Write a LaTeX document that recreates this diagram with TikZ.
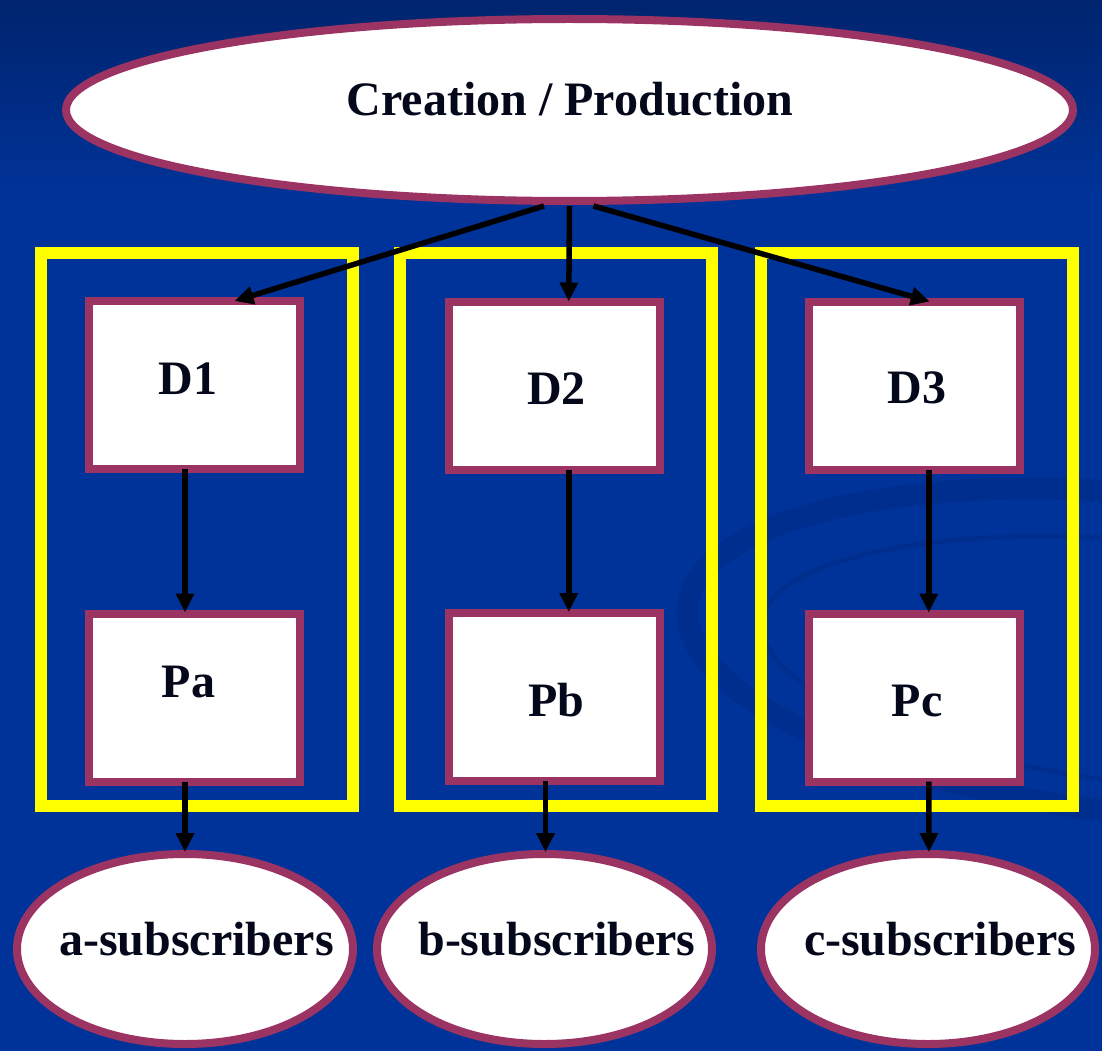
\documentclass[tikz,border=0pt]{standalone}
\usepackage{fontspec}
\setmainfont{Liberation Serif}
\usetikzlibrary{arrows.meta,shapes.geometric,calc}
\definecolor{bgblue}{RGB}{0,51,153}
\definecolor{bgtop}{RGB}{0,36,110}
\definecolor{swirlc}{RGB}{0,46,143}
\definecolor{plum}{RGB}{155,52,98}
\definecolor{ylw}{RGB}{255,255,0}
\definecolor{ink}{RGB}{4,8,26}
\tikzset{
  oval/.style={shape=ellipse,draw=plum,fill=white,line width=8pt,inner sep=0pt},
  whitebox/.style={shape=rectangle,draw=plum,fill=white,line width=8pt,inner sep=0pt,
                   minimum width=211pt,minimum height=168pt},
  groupbox/.style={draw=ylw,line width=12pt},
  lab/.style={anchor=base,text=ink,font=\fontsize{48}{58}\selectfont\bfseries,inner sep=0pt},
  arr/.style={draw=black,line width=5.5pt,-{Triangle[width=17.6pt,length=19pt]}}
}
\begin{document}
\begin{tikzpicture}[x=1pt,y=-1pt]
\useasboundingbox (0,0) rectangle (1102,1051);
% background
\fill[bgblue] (0,0) rectangle (1102,1051);
\shade[top color=bgtop,bottom color=bgblue] (0,0) rectangle (1102,200);
\begin{scope}
  \clip (0,0) rectangle (1102,1051);
  \draw[swirlc,line width=22pt,rotate around={-6:(1150,655)}] (1150,655) ellipse [x radius=465pt,y radius=160pt];
  \draw[swirlc,line width=5pt,rotate around={-6:(1170,665)}] (1170,665) ellipse [x radius=410pt,y radius=122pt];
\end{scope}

% group frames
\draw[groupbox] (41,253) rectangle (353,805.5);
\draw[groupbox] (400,253) rectangle (712,805.5);
\draw[groupbox] (761,253) rectangle (1073,805.5);

% top ellipse
\node[oval,minimum width=1007pt,minimum height=182pt] (top) at (569.5,110) {};
\node[lab] (toplab) at (570,116) {Creation / Production};

% boxes
\node[whitebox] (D1) at (194.5,385) {};
\node[whitebox] (D2) at (554.75,385.5) {};
\node[whitebox] (D3) at (914.75,385.5) {};
\node[whitebox] (Pa) at (194.5,697.5) {};
\node[whitebox] (Pb) at (554.75,697) {};
\node[whitebox] (Pc) at (914.75,697.5) {};
\node[lab] (D1lab) at (188,394) {D1};
\node[lab] (D2lab) at (556.5,404) {D2};
\node[lab] (D3lab) at (917,403) {D3};
\node[lab] (Palab) at (188.5,697) {Pa};
\node[lab] (Pblab) at (556.5,716) {Pb};
\node[lab] (Pclab) at (917,716) {Pc};

% subscriber ellipses
\node[oval,minimum width=336pt,minimum height=190pt] (sa) at (185,949) {};
\node[oval,minimum width=335pt,minimum height=190pt] (sb) at (544.5,949) {};
\node[oval,minimum width=334pt,minimum height=190pt] (sc) at (928,949) {};
\node[lab] (salab) at (196.5,955) {a-subscribers};
\node[lab] (sblab) at (557,955) {b-subscribers};
\node[lab] (sclab) at (940,955) {c-subscribers};

% connectors
\draw[arr] ($(top.south)+(-25.5,1)$) -- ($(D1.north)+(40,4)$);
\draw[arr] ($(top.south)+(0,1)$) -- ($(D2.north)+(14,4)$);
\draw[arr] ($(top.south)+(24,1)$) -- ($(D3.north)+(15,4)$);
\draw[arr] ($(D1.south)+(-9.5,-4)$) -- ($(Pa.north)+(-9.5,3)$);
\draw[arr] ($(D2.south)+(14,-4)$) -- ($(Pb.north)+(14,3)$);
\draw[arr] ($(D3.south)+(14,-4)$) -- ($(Pc.north)+(14,3)$);
\draw[arr] ($(Pa.south)+(-9.5,-4)$) -- ($(sa.north)+(0,2)$);
\draw[arr] ($(Pb.south)+(-9.25,-4)$) -- ($(sb.north)+(1,2)$);
\draw[arr] ($(Pc.south)+(14,-4)$) -- ($(sc.north)+(1,2)$);
\end{tikzpicture}
\end{document}
